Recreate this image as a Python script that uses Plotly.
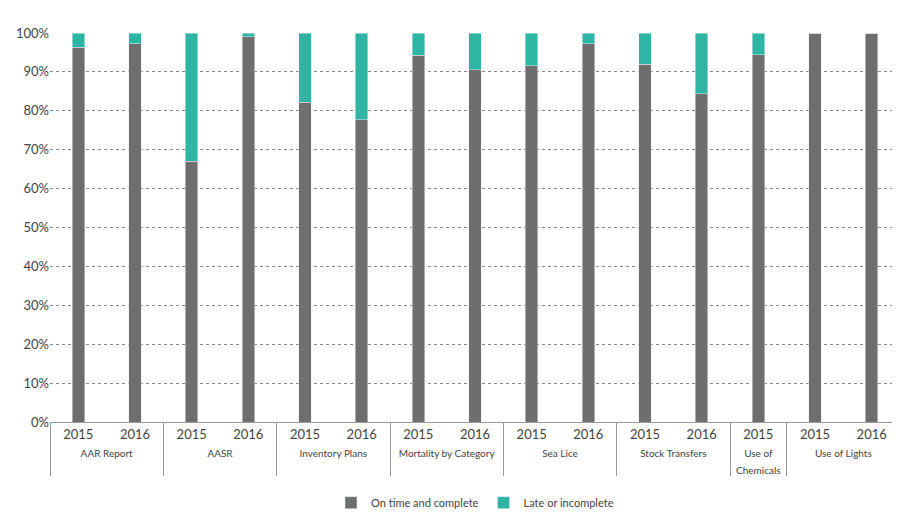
import plotly.graph_objects as go

groups = ["AAR Report","AAR Report","AASR","AASR","Inventory Plans","Inventory Plans",
          "Mortality by Category","Mortality by Category","Sea Lice","Sea Lice",
          "Stock Transfers","Stock Transfers","Use of<br>Chemicals","Use of Lights","Use of Lights"]
years = ["2015","2016","2015","2016","2015","2016","2015","2016","2015","2016","2015","2016","2015","2015","2016"]
on_time = [96.3,97.3,67.0,99.0,82.2,77.7,94.3,90.5,91.6,97.2,92.0,84.4,94.4,100,100]
late = [round(100-v,1) for v in on_time]

small = ["<span style='font-size:10px'>" + g.replace("<br>", "</span><br><span style='font-size:10px'>") + "</span>" for g in groups]

fig = go.Figure()
fig.add_bar(x=[small, years], y=on_time, name="On time and complete", marker_color="#6e6e6e")
fig.add_bar(x=[small, years], y=late, name="Late or incomplete", marker_color="#2fb5a4")
fig.update_layout(
    barmode="stack", bargap=0.78, width=900, height=517,
    margin=dict(l=40, r=8, t=25, b=84),
    plot_bgcolor="white", paper_bgcolor="white",
    font=dict(family="Lato, sans-serif", size=12, color="#444"),
    legend=dict(orientation="h", x=0.5, xanchor="center", y=-0.17, yanchor="top",
                font=dict(size=11), traceorder="normal"),
)
fig.update_yaxes(range=[0,100], dtick=10, ticksuffix="%", gridcolor="#888",
                 griddash="dot", zeroline=False, showline=False, tickfont=dict(size=13))
fig.update_xaxes(tickfont=dict(size=13), showdividers=True, dividercolor="#999",
                 showline=True, linecolor="#999")
fig.write_html("out.html")
